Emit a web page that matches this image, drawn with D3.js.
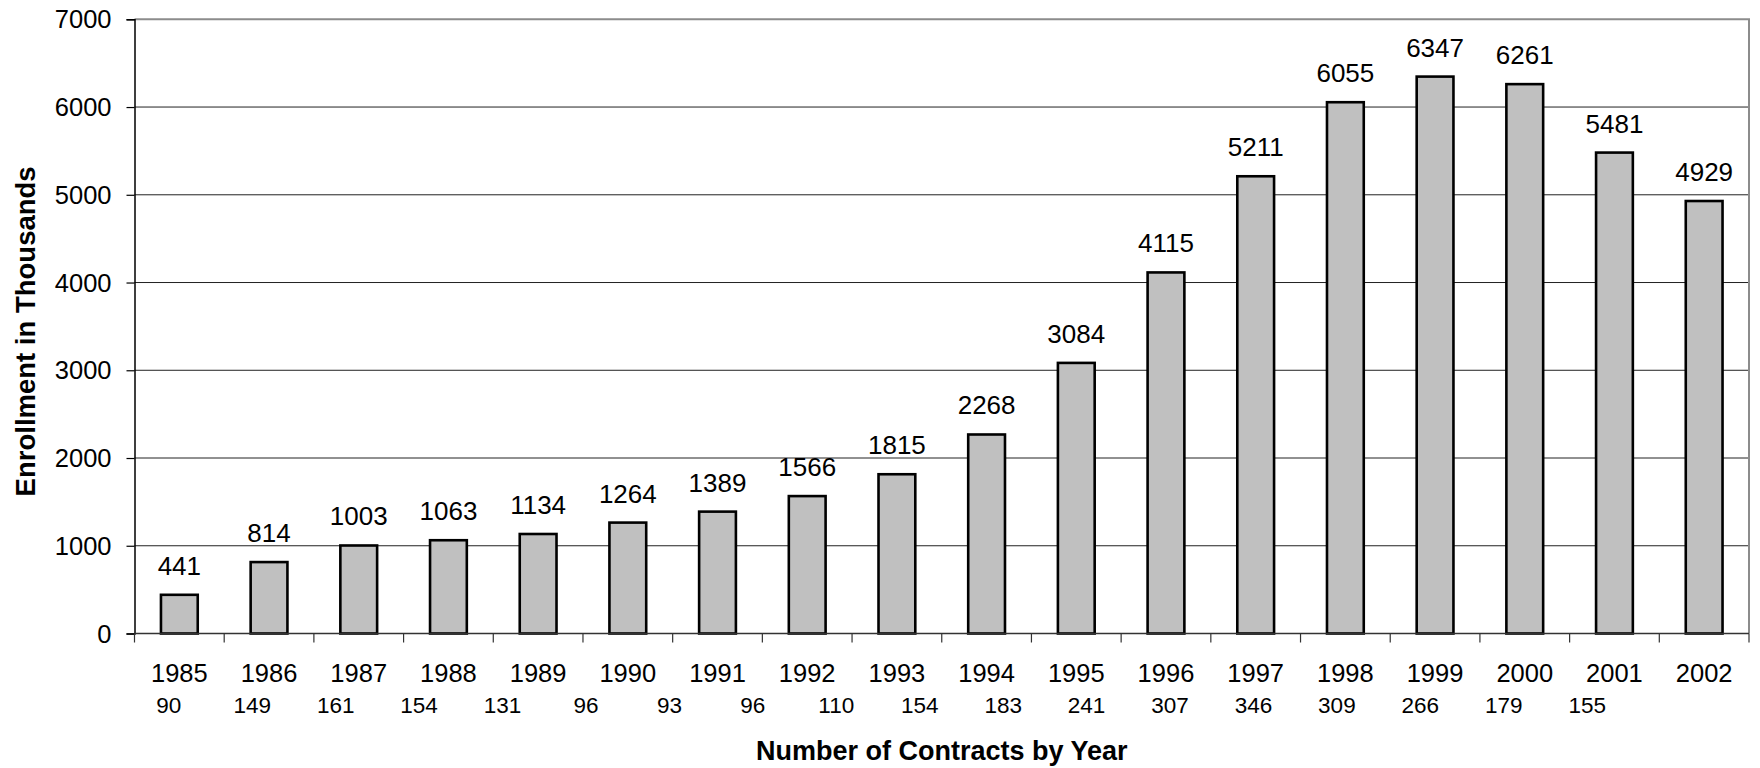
<!DOCTYPE html>
<html>
<head>
<meta charset="utf-8">
<script src="https://cdn.jsdelivr.net/npm/d3@7"></script>
<style>
  html, body { margin: 0; padding: 0; background: #fff; }
  svg { display: block; font-family: "Liberation Sans", Arial, sans-serif; }
</style>
</head>
<body>
<svg id="chart" width="1760" height="768"></svg>
<script>
// Enrollment (thousands) per year, with the number of contracts per year
const years = ["1985","1986","1987","1988","1989","1990","1991","1992","1993",
               "1994","1995","1996","1997","1998","1999","2000","2001","2002"];
const enrollment = [441, 814, 1003, 1063, 1134, 1264, 1389, 1566, 1815,
                    2268, 3084, 4115, 5211, 6055, 6347, 6261, 5481, 4929];
const contractCounts = [90, 149, 161, 154, 131, 96, 93, 96, 110,
                        154, 183, 241, 307, 346, 309, 266, 179, 155];
const yTicks = [0, 1000, 2000, 3000, 4000, 5000, 6000, 7000];

const svg = d3.select("#chart");
const plot = { left: 134.5, right: 1749, top: 19.3, bottom: 633.5 };

const x = d3.scaleBand().domain(years).range([plot.left, plot.right]).padding(0);
const y = d3.scaleLinear().domain([0, 7000]).range([plot.bottom, plot.top]);
const barW = x.bandwidth() * 0.41;

// horizontal gridlines
svg.append("g")
  .selectAll("line")
  .data(yTicks.filter(d => d > 0 && d < 7000))
  .join("line")
  .attr("x1", plot.left).attr("x2", plot.right)
  .attr("y1", d => y(d)).attr("y2", d => y(d))
  .attr("stroke", "#222").attr("stroke-width", 1);

// top and right frame
svg.append("path")
  .attr("d", `M${plot.left},${y(7000)}H${plot.right}V${plot.bottom}`)
  .attr("fill", "none").attr("stroke", "#8c8c8c").attr("stroke-width", 2);

// bars
const barData = years.map((yr, i) => ({ yr, v: enrollment[i] }));
svg.append("g")
  .selectAll("rect")
  .data(barData)
  .join("rect")
  .attr("x", d => x(d.yr) + x.bandwidth() / 2 - barW / 2)
  .attr("y", d => y(d.v))
  .attr("width", barW)
  .attr("height", d => y(0) - y(d.v))
  .attr("fill", "#c0c0c0")
  .attr("stroke", "#000")
  .attr("stroke-width", 2.6);

// value labels above bars
svg.append("g")
  .selectAll("text")
  .data(barData)
  .join("text")
  .attr("x", d => x(d.yr) + x.bandwidth() / 2)
  .attr("y", d => y(d.v) - 20)
  .attr("text-anchor", "middle")
  .attr("font-size", 26)
  .attr("fill", "#000")
  .text(d => d.v);

// y axis
const yAxis = svg.append("g")
  .attr("transform", `translate(${plot.left},0)`)
  .call(d3.axisLeft(y).tickValues(yTicks).tickSize(8).tickPadding(15).tickFormat(d3.format("d")));
yAxis.select(".domain").attr("stroke", "#000").attr("stroke-width", 1.5);
yAxis.selectAll(".tick line").attr("stroke", "#000").attr("stroke-width", 1.2);
yAxis.selectAll(".tick text")
  .attr("font-family", "Liberation Sans, Arial, sans-serif")
  .attr("font-size", 25.5).attr("fill", "#000").attr("dy", "0.34em");

// x axis: boundaries between years
const bounds = years.map(yr => x(yr)).concat([plot.right]);
svg.append("line")
  .attr("x1", plot.left).attr("x2", plot.right)
  .attr("y1", plot.bottom).attr("y2", plot.bottom)
  .attr("stroke", "#333").attr("stroke-width", 1.5);
svg.append("g")
  .selectAll("line")
  .data(bounds)
  .join("line")
  .attr("x1", d => d).attr("x2", d => d)
  .attr("y1", plot.bottom).attr("y2", plot.bottom + 9)
  .attr("stroke", "#333").attr("stroke-width", 1.2);

// year labels
svg.append("g")
  .selectAll("text")
  .data(years)
  .join("text")
  .attr("x", d => x(d) + x.bandwidth() / 2)
  .attr("y", 681.7)
  .attr("text-anchor", "middle")
  .attr("font-size", 25.5)
  .attr("fill", "#000")
  .text(d => d);

// contract counts row, set as a slightly tighter line under the years
const cx = d3.scalePoint().domain(years).range([168.8, 1587.2]);
svg.append("g")
  .selectAll("text")
  .data(years.map((yr, i) => ({ yr, n: contractCounts[i] })))
  .join("text")
  .attr("x", d => cx(d.yr))
  .attr("y", 712.5)
  .attr("text-anchor", "middle")
  .attr("font-size", 22.5)
  .attr("fill", "#000")
  .text(d => d.n);

// axis titles
svg.append("text")
  .attr("transform", `translate(35,${(plot.top + plot.bottom) / 2 + 5}) rotate(-90)`)
  .attr("text-anchor", "middle")
  .attr("font-size", 27.5)
  .attr("font-weight", "bold")
  .attr("fill", "#000")
  .text("Enrollment in Thousands");

svg.append("text")
  .attr("x", (plot.left + plot.right) / 2)
  .attr("y", 760)
  .attr("text-anchor", "middle")
  .attr("font-size", 27)
  .attr("font-weight", "bold")
  .attr("fill", "#000")
  .text("Number of Contracts by Year");
</script>
</body>
</html>
